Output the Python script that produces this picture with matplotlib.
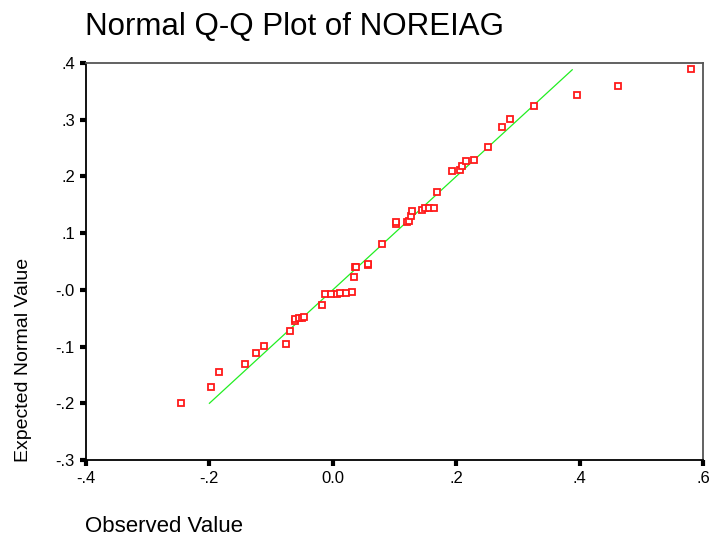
import matplotlib
matplotlib.use("Agg")
import matplotlib.pyplot as plt

plt.rcParams['font.family'] = ['Liberation Sans', 'DejaVu Sans']

observed = [-0.246, -0.197, -0.184, -0.143, -0.125, -0.112, -0.076, -0.069,
            -0.061, -0.061, -0.055, -0.050, -0.046, -0.018, -0.012, -0.003,
            0.006, 0.012, 0.022, 0.031, 0.034, 0.036, 0.038, 0.057, 0.057,
            0.080, 0.103, 0.103, 0.121, 0.123, 0.126, 0.128, 0.145, 0.149,
            0.156, 0.164, 0.169, 0.193, 0.206, 0.210, 0.216, 0.229, 0.252,
            0.275, 0.287, 0.326, 0.395, 0.462, 0.580]
expected = [-0.200, -0.171, -0.145, -0.130, -0.112, -0.099, -0.096, -0.073,
            -0.055, -0.051, -0.049, -0.049, -0.047, -0.026, -0.008, -0.008,
            -0.008, -0.006, -0.006, -0.004, 0.023, 0.040, 0.041, 0.043, 0.046,
            0.080, 0.116, 0.119, 0.119, 0.121, 0.130, 0.139, 0.141, 0.144,
            0.144, 0.144, 0.172, 0.209, 0.211, 0.219, 0.227, 0.229, 0.252,
            0.288, 0.302, 0.325, 0.343, 0.359, 0.389]

# reference line y = x
line_x = [-0.200, 0.388]
line_y = [-0.200, 0.388]

x_ticks = [-0.4, -0.2, 0.0, 0.2, 0.4, 0.6]
x_labels = ['-.4', '-.2', '0.0', '.2', '.4', '.6']
y_ticks = [-0.3, -0.2, -0.1, 0.0, 0.1, 0.2, 0.3, 0.4]
y_labels = ['-.3', '-.2', '-.1', '-.0', '.1', '.2', '.3', '.4']

fig = plt.figure(figsize=(7.12, 5.36), dpi=100)
ax = fig.add_axes([0.1208, 0.1418, 0.8666, 0.7407])

ax.plot(line_x, line_y, color='#22ee22', lw=0.9, zorder=2)
ax.plot(observed, expected, ls='none', marker='s', ms=5, mfc='white',
        mec='#ff1a1a', mew=1.3, zorder=3)

ax.set_xlim(-0.4, 0.6)
ax.set_ylim(-0.3, 0.4)
ax.set_xticks(x_ticks)
ax.set_xticklabels(x_labels)
ax.set_yticks(y_ticks)
ax.set_yticklabels(y_labels)
ax.tick_params(direction='out', length=4, width=3, color='black',
               labelsize=12, pad=4)

for s in ['left', 'bottom']:
    ax.spines[s].set_linewidth(1.3)
    ax.spines[s].set_color('black')
for s in ['top', 'right']:
    ax.spines[s].set_linewidth(1.3)
    ax.spines[s].set_color('#555555')

fig.text(85 / 712, 1 - 35 / 536, 'Normal Q-Q Plot of NOREIAG', fontsize=22.5,
         va='baseline', ha='left')
fig.text(85 / 712, 1 - 532 / 536, 'Observed Value', fontsize=16,
         va='baseline', ha='left')
fig.text(24 / 712, 1 - 360 / 536, 'Expected Normal Value', fontsize=14,
         rotation=90, va='center', ha='center')

fig.savefig('out.png', dpi=100)
